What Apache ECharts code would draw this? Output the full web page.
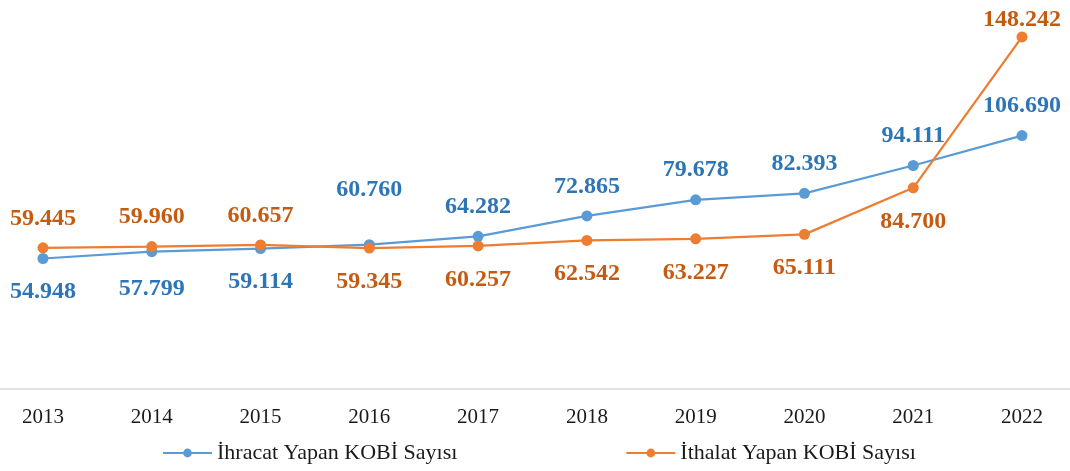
<!DOCTYPE html>
<html>
<head>
<meta charset="utf-8">
<script src="https://cdn.jsdelivr.net/npm/echarts@6/dist/echarts.min.js"></script>
<style>
  html, body { margin: 0; padding: 0; background: #fff; }
  #chart { width: 1070px; height: 471px; }
</style>
</head>
<body>
<div id="chart"></div>
<script>
const years = ['2013', '2014', '2015', '2016', '2017', '2018', '2019', '2020', '2021', '2022']
const ihracat = [54948, 57799, 59114, 60760, 64282, 72865, 79678, 82393, 94111, 106690]
const ithalat = [59445, 59960, 60657, 59345, 60257, 62542, 63227, 65111, 84700, 148242]
// etiket konumlari (ust/alt)
const ihracatPos = ['bottom', 'bottom', 'bottom', 'top', 'top', 'top', 'top', 'top', 'top', 'top']
const ithalatPos = ['top', 'top', 'top', 'bottom', 'bottom', 'bottom', 'bottom', 'bottom', 'bottom', 'top']

const fmt = (p) => (p.value / 1000).toFixed(3)

const chart = echarts.init(document.getElementById('chart'))

const makeData = (values, pos, extra) =>
  values.map((v, i) => {
    const item = {
      value: v,
      label: { position: pos[i], distance: pos[i] === 'bottom' ? 16 : 12 }
    }
    if (extra[i]) item.label.offset = extra[i]
    return item
  })

chart.setOption({
  animation: false,
  grid: [
    { left: 43, right: 48, top: 9, bottom: 82 },
    // sadece tam genislikte taban cizgisi icin
    { left: 0, right: 0, top: 9, bottom: 82 }
  ],
  legend: {
    top: 437,
    left: 157,
    itemGap: 168,
    itemWidth: 49,
    itemHeight: 11,
    textStyle: { fontFamily: 'Liberation Serif', fontSize: 22, color: '#1a1a1a' },
    data: ['İhracat Yapan KOBİ Sayısı', 'İthalat Yapan KOBİ Sayısı']
  },
  xAxis: [
    {
      type: 'category',
      data: years,
      boundaryGap: false,
      gridIndex: 0,
      axisLine: { show: false },
      axisTick: { show: false },
      axisLabel: { fontFamily: 'Liberation Serif', fontSize: 21, color: '#1a1a1a', margin: 18 }
    },
    {
      type: 'category',
      data: years,
      gridIndex: 1,
      axisLine: { lineStyle: { color: '#D9D9D9', width: 1.5 } },
      axisTick: { show: false },
      axisLabel: { show: false }
    }
  ],
  yAxis: [
    { type: 'value', min: 0, max: 160000, show: false, gridIndex: 0 },
    { type: 'value', min: 0, max: 160000, show: false, gridIndex: 1 }
  ],
  series: [
    {
      name: 'İhracat Yapan KOBİ Sayısı',
      type: 'line',
      data: makeData(ihracat, ihracatPos, { 1: [0, 4], 3: [0, -25] }),
      symbol: 'circle',
      symbolSize: 11,
      lineStyle: { color: '#5B9BD5', width: 2.25 },
      itemStyle: { color: '#5B9BD5' },
      label: {
        show: true,
        formatter: fmt,
        fontFamily: 'Liberation Serif',
        fontWeight: 'bold',
        fontSize: 24,
        color: '#2E75B6'
      },
      z: 3
    },
    {
      name: 'İthalat Yapan KOBİ Sayısı',
      type: 'line',
      data: makeData(ithalat, ithalatPos, { 9: [0, 12] }),
      symbol: 'circle',
      symbolSize: 11,
      lineStyle: { color: '#ED7D31', width: 2.25 },
      itemStyle: { color: '#ED7D31' },
      label: {
        show: true,
        formatter: fmt,
        fontFamily: 'Liberation Serif',
        fontWeight: 'bold',
        fontSize: 24,
        color: '#C55A11'
      },
      z: 4
    }
  ]
})

window.addEventListener('resize', function () {
  chart.resize()
})
</script>
</body>
</html>
